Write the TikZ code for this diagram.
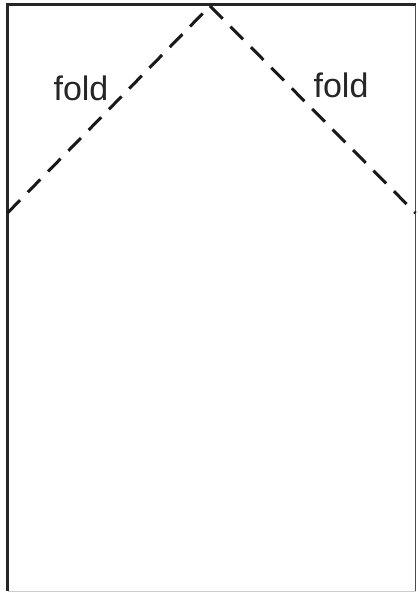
\documentclass[tikz,border=0pt]{standalone}
\usepackage{fontspec}
\setmainfont{Liberation Sans}
\tikzset{
  foldline/.style={line width=3bp, dash pattern=on 18bp off 11bp, black!90},
  foldlabel/.style={font=\fontsize{34bp}{40bp}\selectfont, text=black!85, inner sep=0pt}
}
\begin{document}
\begin{tikzpicture}[x=1bp,y=-1bp]
\useasboundingbox (0,0) rectangle (417,592);
% sheet
\draw[line width=3bp, black!85] (7.5,591) -- (7.5,5) -- (415.5,5);
\draw[line width=1.6bp, black!70] (415.5,5) -- (415.5,591);
\draw[line width=1bp, black!20] (7.5,591) -- (415.5,591);
% folds
\coordinate (l) at (7.5,213);
\coordinate (t) at (210,6);
\coordinate (r) at (415.5,213);
\draw[foldline] (l) -- (t);
\draw[foldline] (t) -- (r);
\node[foldlabel] (f1) at (81,88) {fold};
\node[foldlabel] (f2) at (341,85) {fold};
\end{tikzpicture}
\end{document}
